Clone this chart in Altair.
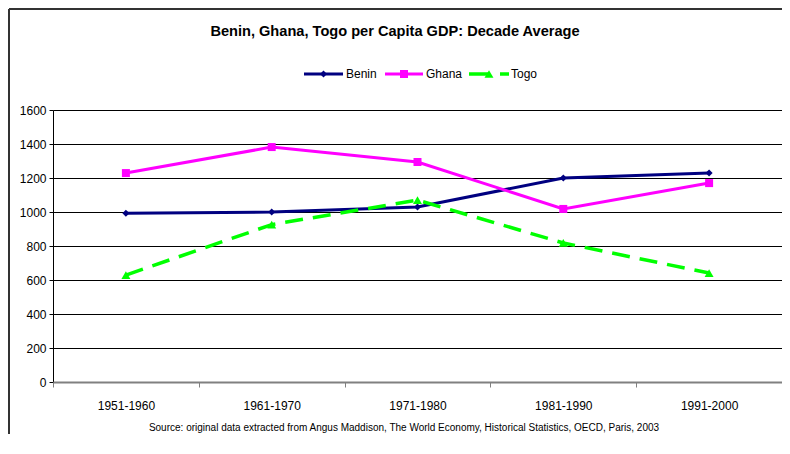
import altair as alt
import pandas as pd

decades = ["1951-1960", "1961-1970", "1971-1980", "1981-1990", "1991-2000"]
benin = [993, 1000, 1029, 1200, 1229]
ghana = [1229, 1382, 1294, 1018, 1170]
togo = [629, 926, 1070, 818, 641]
series = ["Benin", "Ghana", "Togo"]
colors = ["#000080", "#FF00FF", "#00FF00"]
y_ticks = [0, 200, 400, 600, 800, 1000, 1200, 1400, 1600]
title_text = "Benin, Ghana, Togo per Capita GDP: Decade Average"
source_text = ("Source: original data extracted from Angus Maddison, The World Economy, "
               "Historical Statistics, OECD, Paris, 2003")

W, H = 729, 272
FONT = "Liberation Sans"

rows = []
for name, vals in zip(series, [benin, ghana, togo]):
    for d, v in zip(decades, vals):
        rows.append({"Country": name, "Decade": d, "GDP": v})
df = pd.DataFrame(rows)
one = pd.DataFrame({"k": [0]})

x = alt.X("Decade:N", sort=decades,
          scale=alt.Scale(type="band", domain=decades, paddingInner=0, paddingOuter=0),
          axis=alt.Axis(title=None, labelAngle=0, tickBand="extent", domainColor="#808080",
                        domainWidth=2, tickColor="#808080", tickSize=5, labelFontSize=12,
                        labelPadding=13, labelColor="black", grid=False, zindex=1))
y = alt.Y("GDP:Q", scale=alt.Scale(domain=[0, 1600], nice=False),
          axis=alt.Axis(title=None, values=y_ticks, format="d", grid=True, gridColor="#000000",
                        gridWidth=1, domainColor="#000000", tickColor="#000000", tickSize=4,
                        labelFontSize=12, labelPadding=3, labelColor="black"))

shapes = ["diamond", "square", "triangle-up"]
sizes = [50, 64, 80]
dashes = [None, None, [18, 10]]

layers = []
for name, color, shape, size, dash in zip(series, colors, shapes, sizes, dashes):
    base = alt.Chart(df[df.Country == name]).encode(x=x, y=y)
    if dash:
        line = base.mark_line(color=color, strokeWidth=3.5, strokeDash=dash)
    else:
        line = base.mark_line(color=color, strokeWidth=3)
    pts = base.mark_point(shape=shape, size=size, filled=True, color=color, opacity=1)
    layers += [line, pts]

# legend (drawn manually, Excel style)
leg_y = -36
leg_items = [(251, 290, 293), (332, 370, 373), (416, 456, 458)]
for name, color, shape, size, dash, (x1, x2, tx) in zip(series, colors, shapes, sizes, dashes, leg_items):
    b = alt.Chart(one)
    if dash:
        r = b.mark_rule(color=color, strokeWidth=3.5, strokeDash=[20, 11])
    else:
        r = b.mark_rule(color=color, strokeWidth=3)
    layers.append(r.encode(x=alt.value(x1), x2=alt.value(x2), y=alt.value(leg_y)))
    layers.append(b.mark_point(shape=shape, size=size, filled=True, color=color, opacity=1)
                  .encode(x=alt.value((x1 + x2) / 2), y=alt.value(leg_y)))
    layers.append(b.mark_text(align="left", baseline="middle", fontSize=12, color="black")
                  .encode(x=alt.value(tx), y=alt.value(leg_y), text=alt.value(name)))

# title and source
layers.append(alt.Chart(one).mark_text(align="center", baseline="middle", fontSize=14.6,
                                       fontWeight="bold", color="black")
              .encode(x=alt.value(342), y=alt.value(-78), text=alt.value(title_text)))
layers.append(alt.Chart(one).mark_text(align="center", baseline="middle", fontSize=10,
                                       color="black")
              .encode(x=alt.value(351), y=alt.value(318), text=alt.value(source_text)))

# outer border (top and left visible)
layers.append(alt.Chart(one).mark_rule(color="#333333", strokeWidth=2)
              .encode(x=alt.value(-44), y=alt.value(-101), y2=alt.value(H + 60)))
layers.append(alt.Chart(one).mark_rule(color="#333333", strokeWidth=2)
              .encode(x=alt.value(-44), x2=alt.value(W + 10), y=alt.value(-101)))

chart = alt.layer(*layers).properties(
    width=W, height=H,
    autosize=alt.AutoSizeParams(type="none"),
    padding={"left": 45, "top": 102, "right": 0, "bottom": 52},
).configure(font=FONT).configure_view(stroke=None)

chart.save("out.html", embed_options={"renderer": "svg", "actions": False})
